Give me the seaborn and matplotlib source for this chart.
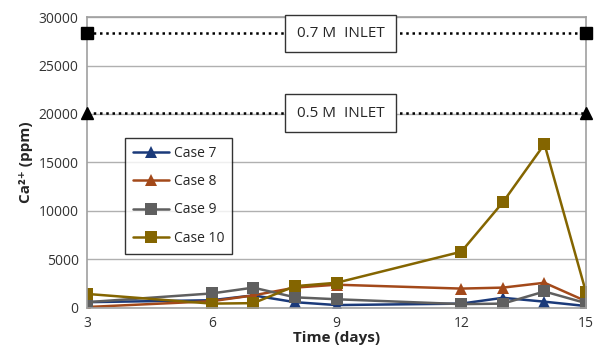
import numpy as np
import pandas as pd
import seaborn as sns
import matplotlib.pyplot as plt

# Time points (days)
days = [3, 6, 7, 8, 9, 12, 13, 14, 15]

# Ca2+ concentration (ppm)
case7 = [600, 800, 1300, 600, 300, 450, 1050, 650, 200]
case8 = [100, 700, 1300, 2100, 2400, 2000, 2100, 2600, 700]
case9 = [600, 1500, 2100, 1100, 900, 400, 450, 1700, 500]
case10 = [1450, 450, 500, 2250, 2600, 5800, 10900, 16900, 1600]

inlet_days = [3, 15]
inlet_07 = [28300, 28300]
inlet_05 = [20100, 20100]

rows = []
for name, vals in [("Case 7", case7), ("Case 8", case8), ("Case 9", case9), ("Case 10", case10)]:
    for d, v in zip(days, vals):
        rows.append({"Time (days)": d, "Ca": v, "Case": name})
df = pd.DataFrame(rows)

sns.set_style("white")
plt.rcParams['font.family'] = ['Open Sans', 'DejaVu Sans']

fig = plt.figure(figsize=(6.02, 3.58), dpi=100)
ax = fig.add_axes([0.1445, 0.1397, 0.829, 0.8128])

palette = {"Case 7": "#1b3a7a", "Case 8": "#a3491a", "Case 9": "#5f5f5f", "Case 10": "#846500"}
markers = {"Case 7": "^", "Case 8": "^", "Case 9": "s", "Case 10": "s"}

sns.lineplot(data=df, x="Time (days)", y="Ca", hue="Case", style="Case",
             palette=palette, markers=markers, dashes=False, markersize=8,
             markeredgewidth=0, linewidth=1.8, ax=ax)

# inlet reference lines
ax.plot(inlet_days, inlet_07, color="black", linestyle=(0, (1, 1.5)), linewidth=1.8,
        marker="s", markersize=8, clip_on=False, zorder=5)
ax.plot(inlet_days, inlet_05, color="black", linestyle=(0, (1, 1.5)), linewidth=1.8,
        marker="^", markersize=8, clip_on=False, zorder=5)
box = dict(boxstyle="square,pad=0.75", facecolor="white", edgecolor="#333333", linewidth=1)
ax.text(9.1, inlet_07[0], "0.7 M  INLET", ha="center", va="center", fontsize=11, bbox=box, zorder=6)
ax.text(9.1, inlet_05[0], "0.5 M  INLET", ha="center", va="center", fontsize=11, bbox=box, zorder=6)

ax.set_xlim(3, 15)
ax.set_ylim(0, 30000)
ax.set_xticks([3, 6, 9, 12, 15])
ax.set_yticks(np.arange(0, 30001, 5000))
ax.yaxis.grid(True, color="#b0b0b0", linewidth=1)
ax.set_axisbelow(True)
for s in ax.spines.values():
    s.set_color("#a0a0a0")
    s.set_linewidth(1.2)
ax.tick_params(axis="both", labelsize=10, colors="#333333", length=0, pad=6)

ax.set_xlabel("Time (days)", fontsize=11, fontweight="bold", labelpad=0)
ax.set_ylabel("Ca²⁺ (ppm)", fontsize=11, fontweight="bold", labelpad=4)

leg = ax.legend(title=None, loc="upper left", bbox_to_anchor=(0.076, 0.585),
                frameon=True, fancybox=False, edgecolor="black", fontsize=10,
                labelspacing=0.95, handlelength=2.6, handletextpad=0.3,
                borderpad=0.6, borderaxespad=0)
leg.get_frame().set_linewidth(1)

fig.savefig("out.png", dpi=100)
